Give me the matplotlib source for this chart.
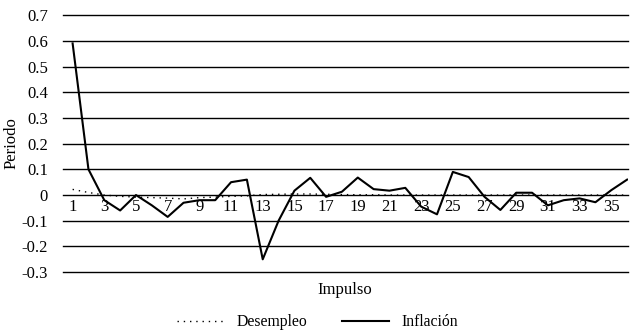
import numpy as np
import matplotlib.pyplot as plt

periodos = list(range(1, 37))
inflacion = [0.59, 0.10, -0.02, -0.06, 0.00, -0.04, -0.085, -0.03, -0.02, -0.02,
             0.05, 0.06, -0.25, -0.10, 0.017, 0.067, -0.007, 0.013, 0.068, 0.023,
             0.017, 0.028, -0.045, -0.075, 0.09, 0.07, -0.007, -0.058, 0.009, 0.009,
             -0.04, -0.02, -0.013, -0.028, 0.019, 0.06]
desempleo = [0.022, 0.010, 0.000, -0.005, -0.008, -0.010, -0.012, -0.015, -0.010, -0.008,
             -0.005, -0.003, 0.002, 0.003, 0.004, 0.004, 0.003, 0.002, 0.001, 0.001,
             0.000, 0.000, 0.000, 0.000, 0.000, 0.000, 0.000, 0.000, 0.000, 0.000,
             0.000, 0.000, 0.000, 0.000, 0.000, 0.000]
yticks = [-0.3, -0.2, -0.1, 0, 0.1, 0.2, 0.3, 0.4, 0.5, 0.6, 0.7]
ylabels = ['-0.3', '-0.2', '-0.1', '0', '0.1', '0.2', '0.3', '0.4', '0.5', '0.6', '0.7']
xlabels = [str(i) for i in range(1, 37, 2)]

plt.rcParams['font.family'] = ['Liberation Serif', 'DejaVu Serif']
plt.rcParams['font.size'] = 12

fig = plt.figure(figsize=(6.44, 3.36), dpi=100)
ax = fig.add_axes([0.098, 0.19, 0.877, 0.765])

for yv in yticks:
    ax.axhline(yv, color='black', lw=1.0, zorder=1, clip_on=False)

ax.plot(periodos, desempleo, color='black', ls=(0, (1, 3.5)), lw=1.0, label='Desempleo', zorder=2)
ax.plot(periodos, inflacion, color='black', ls='-', lw=1.5, label='Inflación', zorder=3)

ax.set_xlim(0.4, 36.05)
ax.set_ylim(-0.3, 0.7)
ax.set_yticks(yticks)
ax.set_yticklabels(ylabels)
ax.set_xticks([])
ax.tick_params(axis='y', length=0, pad=11)
for s in ax.spines.values():
    s.set_visible(False)

for lab in xlabels:
    ax.text(int(lab), -0.047, lab, ha='center', va='center')

fig.text(0.018, 0.575, 'Periodo', rotation=90, ha='center', va='center')
fig.text(0.535, 0.137, 'Impulso', ha='center', va='center')

fig.legend(loc='lower center', bbox_to_anchor=(0.493, -0.025), ncol=2, frameon=False,
           fontsize=11.3, handlelength=3.0, columnspacing=2.2, handletextpad=0.8)

fig.savefig('out.png', dpi=100)
